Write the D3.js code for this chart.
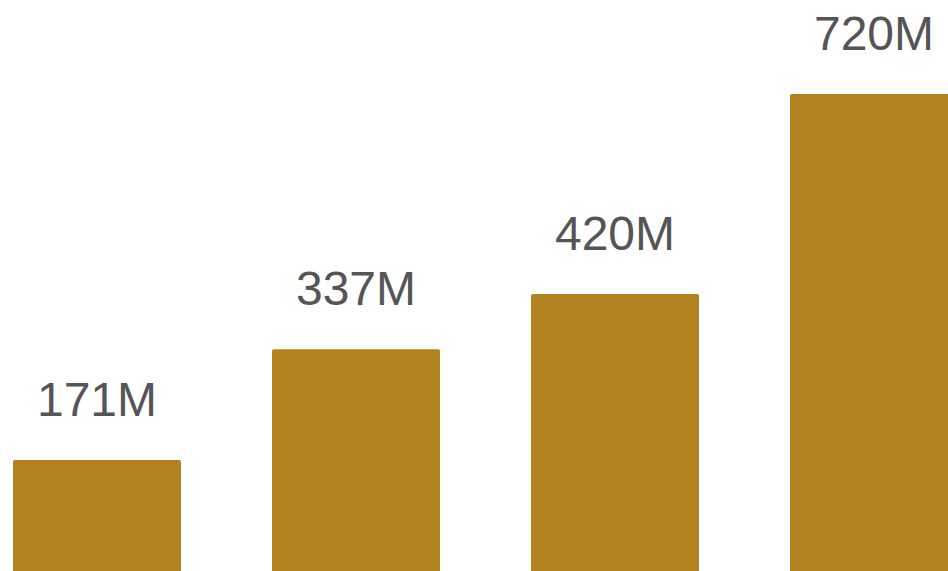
<!DOCTYPE html>
<html>
<head>
<meta charset="utf-8">
<script src="https://cdn.jsdelivr.net/npm/d3@7/dist/d3.min.js"></script>
<style>
  html, body { margin: 0; padding: 0; background: #fff; overflow: hidden; }
  svg { display: block; }
</style>
</head>
<body>
<svg id="chart" width="948" height="571"></svg>
<script>
// Values in millions, one per bar
const categories = ["A", "B", "C", "D"];
const values = [171, 337, 420, 720];
const labels = ["171M", "337M", "420M", "720M"];

const width = 948, height = 571;
const svg = d3.select("#chart");

const x = d3.scaleBand()
  .domain(categories)
  .range([-32.5, 1003.5])
  .paddingInner(0.3514)
  .paddingOuter(0.1757);

// Baseline sits just below the visible area
const y = d3.scaleLinear()
  .domain([0, 720])
  .range([574, 574 - 720 * 0.6667]);

svg.selectAll("rect.bar")
  .data(values)
  .join("rect")
  .attr("class", "bar")
  .attr("x", (d, i) => x(categories[i]))
  .attr("y", d => y(d))
  .attr("width", x.bandwidth())
  .attr("height", d => y(0) - y(d) + 10)
  .attr("rx", 2)
  .attr("fill", "#B2821F");

svg.selectAll("text.label")
  .data(values)
  .join("text")
  .attr("class", "label")
  .attr("x", (d, i) => x(categories[i]) + x.bandwidth() / 2)
  .attr("y", d => y(d) - 44)
  .attr("text-anchor", "middle")
  .attr("font-family", "Liberation Sans, Arial, sans-serif")
  .attr("font-size", 48)
  .attr("fill", "#555555")
  .text((d, i) => labels[i]);
</script>
</body>
</html>
